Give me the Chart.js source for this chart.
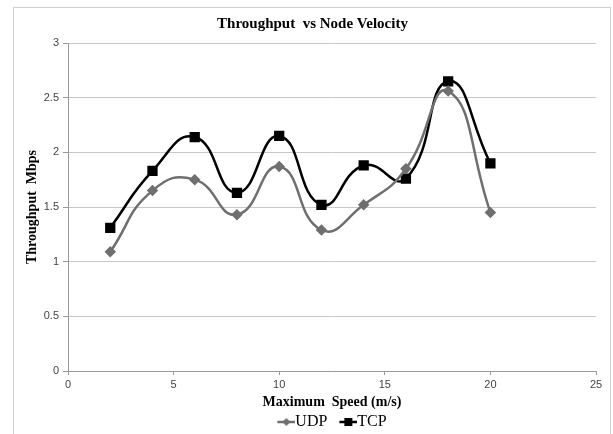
<!DOCTYPE html>
<html lang="en">
<head>
  <meta charset="UTF-8">
  <title>Throughput vs Node Velocity</title>
  <script src="https://cdn.jsdelivr.net/npm/chart.js"></script>
  <style>
    body {
      margin: 0;
      background: #fff;
      overflow: hidden;
    }
    #frame {
      position: absolute;
      left: 13px;
      top: 7px;
      width: 598px;
      height: 440px;
      border: 1px solid #cfcfcf;
      box-sizing: border-box;
    }
    canvas {
      position: absolute;
      left: 0;
      top: 0;
    }
  </style>
</head>
<body>
  <div id="frame"></div>
  <canvas id="chart" width="613" height="434"></canvas>

  <script>
    // values
    const speeds = [2, 4, 6, 8, 10, 12, 14, 16, 18, 20];
    const udp = [1.09, 1.65, 1.75, 1.43, 1.87, 1.29, 1.52, 1.85, 2.56, 1.45];
    const tcp = [1.31, 1.83, 2.14, 1.63, 2.15, 1.52, 1.88, 1.76, 2.65, 1.90];

    const udpColor = '#6f6f6f';
    const tcpColor = '#000000';

    // line + marker picture for the legend; left 20px are empty so the
    // items get some room between them
    function legendIcon(color, style) {
      const c = document.createElement('canvas');
      c.width = 38;
      c.height = 12;
      const g = c.getContext('2d');
      g.strokeStyle = color;
      g.lineWidth = 2.5;
      g.beginPath();
      g.moveTo(20, 6);
      g.lineTo(38, 6);
      g.stroke();
      g.fillStyle = color;
      if (style === 'rect') {
        g.fillRect(25, 2, 8, 8);
      } else {
        g.beginPath();
        g.moveTo(29, 2);
        g.lineTo(33, 6);
        g.lineTo(29, 10);
        g.lineTo(25, 6);
        g.closePath();
        g.fill();
      }
      return c;
    }

    // spreadsheet look: title centred on the frame, legend on the plot area
    const placeBoxes = {
      id: 'placeBoxes',
      afterLayout(chart) {
        const area = chart.chartArea;
        chart.titleBlock.left = 13;
        chart.titleBlock.right = 612;
        chart.legend.left = area.left - 6;
        chart.legend.right = area.right - 6;
      },
    };

    const ctx = document.getElementById('chart').getContext('2d');
    new Chart(ctx, {
      type: 'line',
      data: {
        datasets: [{
          label: 'UDP',
          data: speeds.map((s, i) => ({ x: s, y: udp[i] })),
          borderColor: udpColor,
          backgroundColor: udpColor,
          borderWidth: 2.5,
          pointStyle: 'rectRot',
          pointRadius: 4,
          tension: 0.5,
          fill: false,
        }, {
          label: 'TCP',
          data: speeds.map((s, i) => ({ x: s, y: tcp[i] })),
          borderColor: tcpColor,
          backgroundColor: tcpColor,
          borderWidth: 2.5,
          pointStyle: 'rect',
          pointRadius: 5.5,
          tension: 0.5,
          fill: false,
        }],
      },
      plugins: [placeBoxes],
      options: {
        responsive: false,
        animation: false,
        layout: {
          padding: { left: 13, right: 17, top: 0, bottom: -6 },
        },
        plugins: {
          title: {
            display: true,
            text: 'Throughput  vs Node Velocity',
            color: '#000',
            font: { family: 'Liberation Serif', size: 15, weight: 'bold' },
            padding: { top: 15, bottom: 10 },
          },
          legend: {
            position: 'bottom',
            labels: {
              color: '#000',
              font: { family: 'Liberation Serif', size: 16 },
              usePointStyle: true,
              pointStyleWidth: 22,
              padding: 0,
              generateLabels: () => [
                { text: 'UDP', pointStyle: legendIcon(udpColor, 'diamond'), fontColor: '#000', datasetIndex: 0, lineWidth: 0 },
                { text: 'TCP', pointStyle: legendIcon(tcpColor, 'rect'), fontColor: '#000', datasetIndex: 1, lineWidth: 0 },
              ],
            },
          },
          tooltip: { enabled: false },
        },
        scales: {
          x: {
            type: 'linear',
            min: 0,
            max: 25,
            afterFit: (scale) => { scale.height = 43; },
            ticks: {
              stepSize: 5,
              color: '#444',
              font: { family: 'Liberation Sans', size: 11 },
              padding: 3,
              maxRotation: 0,
            },
            grid: {
              drawOnChartArea: false,
              color: '#999',
              tickLength: 4,
            },
            border: { color: '#999' },
            title: {
              display: true,
              text: 'Maximum  Speed (m/s)',
              color: '#000',
              font: { family: 'Liberation Serif', size: 14, weight: 'bold' },
              padding: { top: 0, bottom: 3 },
            },
          },
          y: {
            min: 0,
            max: 3,
            afterFit: (scale) => { scale.width = 55; },
            ticks: {
              stepSize: 0.5,
              color: '#444',
              font: { family: 'Liberation Sans', size: 11 },
              padding: 4,
              callback: (v) => String(v),
            },
            grid: {
              color: '#c8c8c8',
              tickColor: '#999',
              tickLength: 5,
            },
            border: { color: '#999' },
            title: {
              display: true,
              text: 'Throughput  Mbps',
              color: '#000',
              font: { family: 'Liberation Serif', size: 14, weight: 'bold' },
              padding: { top: 11, bottom: 0 },
            },
          },
        },
      },
    });
  </script>
</body>
</html>
